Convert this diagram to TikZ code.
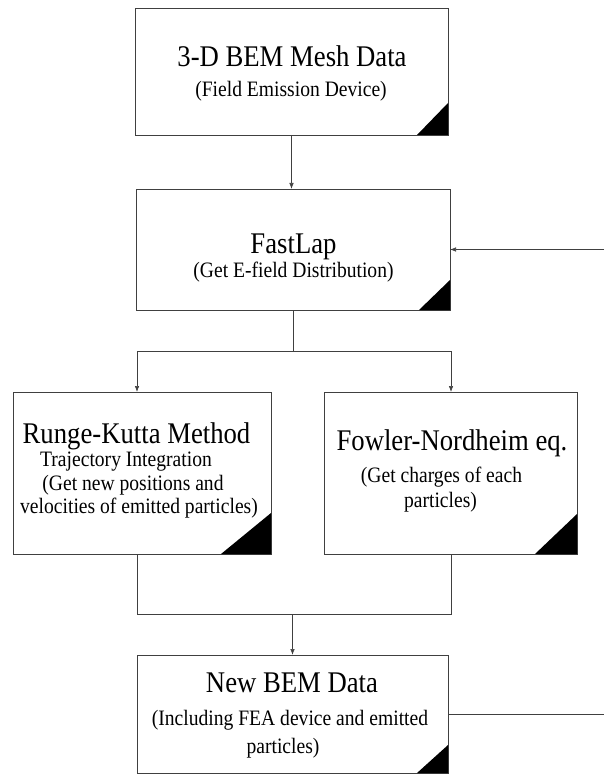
\documentclass[tikz,border=0pt]{standalone}
\usepackage{fontspec}
\setmainfont{Liberation Serif}[FakeStretch=0.89]
\usetikzlibrary{arrows.meta}
\tikzset{
 box/.style={draw=black!75, line width=0.6pt, inner sep=0pt, outer sep=0pt, fill=white},
 ttl/.style={anchor=base, inner sep=0pt, font=\fontsize{30}{32}\selectfont},
 sub/.style={anchor=base, inner sep=0pt, font=\fontsize{22}{24}\selectfont},
 conn/.style={draw=black!75, line width=0.6pt},
 arr/.style={conn, -{Latex[length=6pt,width=4.5pt]}},
}
\newcommand\cornertri[3]{\fill[black] ([xshift=-#2pt]#1.south east) -- (#1.south east) -- ([yshift=#3pt]#1.south east) -- cycle;}
\begin{document}
\begin{tikzpicture}[x=1pt,y=-1pt]
\useasboundingbox (0,0) rectangle (604,775);
% boxes
\node[box, minimum width=313pt, minimum height=127pt] (b1) at (291.5,71.5) {};
\node[box, minimum width=314pt, minimum height=121pt] (b2) at (293,249.5) {};
\node[box, minimum width=258pt, minimum height=162pt] (b3) at (142,473) {};
\node[box, minimum width=253pt, minimum height=162pt] (b4) at (450.5,473) {};
\node[box, minimum width=311pt, minimum height=118pt] (b5) at (292.5,714) {};
\cornertri{b1}{31}{32}
\cornertri{b2}{31}{30}
\cornertri{b3}{50}{41}
\cornertri{b4}{42}{40}
\cornertri{b5}{31}{28}
% texts
\node[ttl] (t1a) at (292,67) {3-D BEM Mesh Data};
\node[sub] (t1b) at (291,97) {(Field Emission Device)};
\node[ttl] (t2a) at (293.5,254) {FastLap};
\node[sub] (t2b) at (293.5,277) {(Get E-field Distribution)};
\node[ttl] (t3a) at (136.5,443) {Runge-Kutta Method};
\node[sub] (t3b) at (126,466) {Trajectory Integration};
\node[sub] (t3c) at (133,490) {(Get new positions and};
\node[sub] (t3d) at (139,513) {velocities of emitted particles)};
\node[ttl] (t4a) at (452,450) {Fowler-Nordheim eq.};
\node[sub] (t4b) at (441.5,482) {(Get charges of each};
\node[sub] (t4c) at (440.5,507) {particles)};
\node[ttl] (t5a) at (292,692) {New BEM Data};
\node[sub] (t5b) at (290,725) {(Including FEA device and emitted};
\node[sub] (t5c) at (283,753) {particles)};
% connectors
\draw[arr] (b1.south) -- (b1.south |- b2.north);
\coordinate (fm) at (293,351);
\coordinate (fl) at (137,351);
\coordinate (fr) at (451,351);
\draw[conn] (b2.south) -- (fm);
\draw[conn] (fl) -- (fr);
\draw[arr] (fl) -- (fl |- b3.north);
\draw[arr] (fr) -- (fr |- b4.north);
\coordinate (ml) at (137,614);
\coordinate (mr) at (451,614);
\draw[conn] (ml |- b3.south) -- (ml) -- (mr) -- (mr |- b4.south);
\draw[arr] (b5.north |- ml) -- (b5.north);
\coordinate (er) at (604,714);
\draw[conn] (b5.east) -- (er);
\coordinate (tr) at (604,249.5);
\draw[arr] (tr) -- (b2.east);
\end{tikzpicture}
\end{document}
